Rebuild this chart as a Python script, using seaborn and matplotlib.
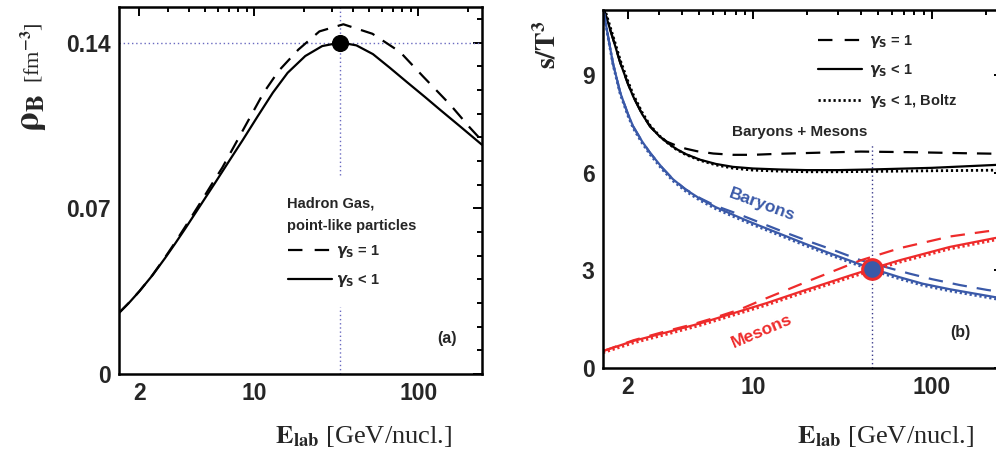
import matplotlib
matplotlib.use("Agg")
import matplotlib.pyplot as plt
import seaborn as sns
from matplotlib.ticker import FixedLocator, FixedFormatter, NullFormatter
from matplotlib.lines import Line2D

# ---------------- data: panel (a) ----------------
E_a_solid = [1.5, 1.75, 2.0, 2.4, 2.86, 3.3, 3.8, 4.6, 5.8, 7.0, 8.5, 10.5, 13.0, 16.0, 20.5, 26.0, 33.6,
             42.0, 53.0, 67.0, 85.7, 110.0, 136.0, 180.0, 245.0]
rho_solid = [0.0258, 0.0305, 0.0350, 0.0417, 0.0489, 0.0551, 0.0614, 0.0702, 0.0809, 0.0897, 0.0987, 0.1088,
             0.1188, 0.1272, 0.1343, 0.1385, 0.1400, 0.1388, 0.1351, 0.1294, 0.1232, 0.1170, 0.1116, 0.1046, 0.0968]
E_a_dash = [1.5, 1.75, 2.0, 2.4, 2.86, 3.3, 3.8, 4.6, 5.5, 6.4, 7.83, 9.0, 11.4, 14.1, 18.6, 25.0, 35.0,
            52.6, 77.6, 107.0, 157.0, 207.0, 245.0]
rho_dash = [0.0258, 0.0305, 0.0350, 0.0418, 0.0492, 0.0556, 0.0622, 0.0713, 0.0800, 0.0872, 0.0982, 0.1058,
            0.1187, 0.1280, 0.1370, 0.1447, 0.1477, 0.1437, 0.1360, 0.1257, 0.1137, 0.1040, 0.0985]
peak_E = [33.6]
peak_rho = [0.140]

# ---------------- data: panel (b) ----------------
E_bm_solid = [1.45, 1.59, 1.7, 1.81, 2.0, 2.14, 2.4, 2.66, 3.0, 3.31, 3.7, 4.2, 5.06, 6.2, 7.73, 10.0, 14.0,
              20.0, 30.0, 46.0, 100.0, 250.0]
s_bm_solid = [11.12, 10.40, 9.88, 9.38, 8.73, 8.34, 7.80, 7.42, 7.12, 6.93, 6.74, 6.575, 6.40, 6.27, 6.18,
              6.13, 6.10, 6.08, 6.08, 6.10, 6.15, 6.25]
E_bm_dash = [1.45, 1.59, 1.7, 1.81, 2.0, 2.14, 2.4, 2.66, 3.0, 3.31, 3.7, 4.2, 4.87, 6.0, 7.73, 10.0, 13.6,
             25.0, 40.0, 80.0, 150.0, 250.0]
s_bm_dash = [11.12, 10.40, 9.88, 9.38, 8.73, 8.34, 7.80, 7.42, 7.12, 6.95, 6.84, 6.74, 6.66, 6.59, 6.55,
             6.55, 6.58, 6.62, 6.65, 6.63, 6.60, 6.58]
E_bm_dot = [1.45, 1.59, 1.7, 1.81, 2.0, 2.14, 2.4, 2.66, 3.0, 3.31, 3.7, 4.2, 5.06, 6.2, 7.73, 10.0, 14.0,
            20.0, 30.0, 46.0, 100.0, 250.0]
s_bm_dot = [11.20, 10.48, 9.96, 9.46, 8.80, 8.40, 7.85, 7.45, 7.13, 6.93, 6.73, 6.56, 6.38, 6.24, 6.14,
            6.08, 6.05, 6.03, 6.03, 6.04, 6.06, 6.08]

E_bar_solid = [1.45, 1.55, 1.65, 1.73, 1.81, 2.0, 2.14, 2.4, 2.66, 3.1, 3.57, 4.2, 5.06, 6.2, 7.73, 9.6, 12.0,
               18.3, 25.0, 34.8, 46.0, 66.0, 89.0, 126.0, 224.0, 250.0]
s_bar_solid = [11.05, 10.17, 9.35, 8.90, 8.46, 7.80, 7.42, 6.96, 6.61, 6.16, 5.80, 5.485, 5.20, 4.94, 4.71,
               4.49, 4.28, 3.88, 3.59, 3.30, 3.06, 2.79, 2.59, 2.42, 2.18, 2.14]
E_bar_dash = [1.45, 1.55, 1.65, 1.73, 1.81, 2.0, 2.14, 2.4, 2.66, 3.1, 3.57, 4.2, 5.06, 6.2, 8.46, 14.7, 20.8,
              28.0, 39.6, 75.0, 100.0, 143.0, 203.0, 250.0]
s_bar_dash = [11.05, 10.17, 9.35, 8.90, 8.46, 7.80, 7.42, 6.96, 6.61, 6.16, 5.80, 5.49, 5.22, 4.98, 4.71,
              4.19, 3.88, 3.63, 3.32, 2.90, 2.73, 2.55, 2.40, 2.33]
E_bar_dot = [1.45, 1.55, 1.65, 1.73, 1.81, 2.0, 2.14, 2.4, 2.66, 3.1, 3.57, 4.2, 5.06, 6.2, 7.73, 9.6, 12.0,
             18.3, 25.0, 34.8, 46.0, 66.0, 89.0, 126.0, 224.0, 250.0]
s_bar_dot = [11.05, 10.15, 9.32, 8.86, 8.42, 7.75, 7.37, 6.91, 6.56, 6.11, 5.75, 5.435, 5.15, 4.89, 4.66,
             4.44, 4.23, 3.83, 3.54, 3.25, 3.01, 2.74, 2.54, 2.37, 2.13, 2.09]

E_mes_solid = [1.45, 2.14, 3.31, 5.06, 7.73, 12.0, 18.3, 34.8, 46.0, 66.0, 126.0, 224.0, 250.0]
s_mes_solid = [0.52, 0.83, 1.10, 1.37, 1.68, 2.00, 2.34, 2.84, 3.05, 3.31, 3.72, 3.99, 4.03]
E_mes_dash = [1.45, 2.14, 3.31, 4.52, 5.75, 8.46, 10.9, 16.1, 20.8, 39.6, 66.0, 126.0, 203.0, 250.0]
s_mes_dash = [0.52, 0.85, 1.14, 1.33, 1.50, 1.80, 2.06, 2.44, 2.69, 3.30, 3.68, 4.04, 4.20, 4.25]
E_mes_dot = [1.45, 2.14, 3.31, 5.06, 7.73, 12.0, 18.3, 34.8, 46.0, 66.0, 126.0, 224.0, 250.0]
s_mes_dot = [0.47, 0.77, 1.04, 1.31, 1.62, 1.94, 2.28, 2.78, 2.99, 3.25, 3.66, 3.93, 3.97]

cross_E = [46.0]
cross_s = [3.05]

x_major = [2, 10, 100]
x_major_labels = ["2", "10", "100"]
x_minor = [3, 4, 5, 6, 7, 8, 9, 20, 30, 40, 50, 60, 70, 80, 90, 200]
ya_major = [0, 0.07, 0.14]
ya_major_labels = ["0", "0.07", "0.14"]
yb_major = [0, 3, 6, 9]
yb_major_labels = ["0", "3", "6", "9"]

# ---------------- style ----------------
sns.set_style("white")
plt.rcParams["font.family"] = ["Liberation Sans", "DejaVu Sans"]
plt.rcParams["font.weight"] = "bold"

BLUE = "#3a59a8"
RED = "#ee2b2b"
NAVY = "#3c3c8c"

W, H = 996, 457
fig = plt.figure(figsize=(W / 100, H / 100), dpi=100)


def fx(px):
    return px / W


def fy(py):
    return 1 - py / H


axA = fig.add_axes([fx(119), fy(374), (482 - 119) / W, (374 - 7) / H])
axB = fig.add_axes([fx(603), fy(368), 400 / W, (368 - 10) / H])

LW = 1.6
DASH = (6.5, 4.5)
DOT = (0.8, 1.0)


def draw(ax, x, y, color, kind):
    sns.lineplot(x=x, y=y, ax=ax, color=color, linewidth=LW if kind != "dot" else 2.0,
                 legend=False, errorbar=None, sort=True)
    ln = ax.lines[-1]
    ln.set_solid_joinstyle("round")
    if kind == "dash":
        ln.set_dashes(DASH)
    elif kind == "dot":
        ln.set_dashes(DOT)
        ln.set_dash_capstyle("butt")
    return ln


# ---- panel (a)
draw(axA, E_a_dash, rho_dash, "black", "dash")
draw(axA, E_a_solid, rho_solid, "black", "solid")
axA.axhline(peak_rho[0], color="#6a6ac0", lw=1.0, ls=(0, (1, 2)), zorder=1)
axA.axvline(peak_E[0], ymin=(374 - 175) / 367, ymax=1, color="#6a6ac0", lw=1.0, ls=(0, (1, 2)), zorder=1)
axA.axvline(peak_E[0], ymin=0, ymax=(374 - 307) / 367, color="#6a6ac0", lw=1.0, ls=(0, (1, 2)), zorder=1)
sns.scatterplot(x=peak_E, y=peak_rho, ax=axA, color="black", s=130, edgecolor="black", zorder=5, legend=False)

axA.set_xscale("log")
axA.set_xlim(1.5, 245)
axA.set_ylim(0, 0.155)
axA.yaxis.set_major_locator(FixedLocator(ya_major))
axA.yaxis.set_major_formatter(FixedFormatter(ya_major_labels))
axA.yaxis.set_minor_locator(FixedLocator([i / 100 for i in range(1, 16)]))

# ---- panel (b)
draw(axB, E_bm_dot, s_bm_dot, "black", "dot")
draw(axB, E_bm_dash, s_bm_dash, "black", "dash")
draw(axB, E_bm_solid, s_bm_solid, "black", "solid")
draw(axB, E_bar_dot, s_bar_dot, BLUE, "dot")
draw(axB, E_bar_dash, s_bar_dash, BLUE, "dash")
draw(axB, E_bar_solid, s_bar_solid, BLUE, "solid")
draw(axB, E_mes_dot, s_mes_dot, RED, "dot")
draw(axB, E_mes_dash, s_mes_dash, RED, "dash")
draw(axB, E_mes_solid, s_mes_solid, RED, "solid")
axB.axvline(cross_E[0], ymin=0, ymax=6.9 / 11, color=NAVY, lw=1.0, ls=(0, (1, 2)), zorder=1)
sns.scatterplot(x=cross_E, y=cross_s, ax=axB, color=BLUE, s=200, edgecolor=RED, linewidth=2.2, zorder=5, legend=False)

axB.set_xscale("log")
axB.set_xlim(1.45, 250)
axB.set_ylim(0, 11)
axB.yaxis.set_major_locator(FixedLocator(yb_major))
axB.yaxis.set_major_formatter(FixedFormatter(yb_major_labels))
axB.yaxis.set_minor_locator(FixedLocator(list(range(1, 12))))

for ax in (axA, axB):
    ax.set_xlabel("")
    ax.set_ylabel("")
    ax.xaxis.set_major_locator(FixedLocator(x_major))
    ax.xaxis.set_major_formatter(FixedFormatter(x_major_labels))
    ax.xaxis.set_minor_locator(FixedLocator(x_minor))
    ax.xaxis.set_minor_formatter(NullFormatter())
    ax.tick_params(which="both", direction="in", top=True, right=True, width=1.4, color="black")
    ax.tick_params(which="major", length=6.5, labelsize=16.5, pad=6)
    ax.tick_params(which="minor", length=3.5)
    for lab in ax.get_xticklabels() + ax.get_yticklabels():
        lab.set_fontweight("bold")
    for sp in ax.spines.values():
        sp.set_linewidth(1.8)
        sp.set_color("black")
    ax.set_facecolor("white")

# ---------------- legends ----------------
def leg_handles(kinds):
    hs = []
    for k in kinds:
        h = Line2D([], [], color="black", lw=LW if k != "dot" else 2.0)
        if k == "dash":
            h.set_dashes((6.5, 5.5))
        elif k == "dot":
            h.set_dashes(DOT)
        hs.append(h)
    return hs


legA = axA.legend(leg_handles(["dash", "solid"]),
                  [r"$\gamma_{\mathbf{S}}$ = 1", r"$\gamma_{\mathbf{S}}$ < 1"],
                  loc="upper left", bbox_to_anchor=(fx(288), fy(243)), bbox_transform=fig.transFigure,
                  frameon=False, borderpad=0, borderaxespad=0, handlelength=3.0, handletextpad=0.3,
                  labelspacing=0.85, prop={"family": "Liberation Sans", "weight": "bold", "size": 10.5})
legB = axB.legend(leg_handles(["dash", "solid", "dot"]),
                  [r"$\gamma_{\mathbf{S}}$ = 1", r"$\gamma_{\mathbf{S}}$ < 1", r"$\gamma_{\mathbf{S}}$ < 1, Boltz"],
                  loc="upper left", bbox_to_anchor=(fx(818), fy(33)), bbox_transform=fig.transFigure,
                  frameon=False, borderpad=0, borderaxespad=0, handlelength=3.0, handletextpad=0.5,
                  labelspacing=0.85, prop={"family": "Liberation Sans", "weight": "bold", "size": 10.5})

# ---------------- annotations ----------------
fig.text(fx(287), fy(207), "Hadron Gas,", fontsize=10.5, fontweight="bold", va="baseline", ha="left")
fig.text(fx(287), fy(230), "point-like particles", fontsize=10.5, fontweight="bold", va="baseline", ha="left")
fig.text(fx(447), fy(338), "(a)", fontsize=11.5, fontweight="bold", va="center", ha="center")
fig.text(fx(960), fy(333), "(b)", fontsize=11.5, fontweight="bold", va="center", ha="center")
fig.text(fx(800), fy(132), "Baryons + Mesons", fontsize=11, fontweight="bold", va="center", ha="center")
fig.text(fx(762), fy(205), "Baryons", fontsize=12.5, fontweight="bold", color=BLUE, va="center", ha="center",
         rotation=-20, rotation_mode="anchor")
fig.text(fx(762), fy(331), "Mesons", fontsize=12.5, fontweight="bold", color=RED, va="center", ha="center",
         rotation=23, rotation_mode="anchor")

# axis labels (serif)
for cx in (364, 886):
    fig.text(fx(cx), fy(443), r"$\mathbf{E}_{\mathbf{lab}}$ [GeV/nucl.]", fontsize=19,
             family="Liberation Serif", fontweight="normal", math_fontfamily="stix",
             ha="center", va="baseline")
fig.text(fx(32), fy(113), r"$\mathbf{\rho}_{\mathbf{B}}$", fontsize=26, family="Liberation Serif",
         fontweight="normal", math_fontfamily="stix", rotation=90, ha="center", va="center")
fig.text(fx(32), fy(53), r"[fm$^{-3}$]", fontsize=16, family="Liberation Serif",
         fontweight="normal", math_fontfamily="stix", rotation=90, ha="center", va="center")
fig.text(fx(548), fy(45), r"$\mathbf{s/T}^{\mathbf{3}}$", fontsize=20, family="Liberation Serif",
         fontweight="bold", math_fontfamily="stix", rotation=90, ha="center", va="center")

fig.savefig("out.png", dpi=100)
